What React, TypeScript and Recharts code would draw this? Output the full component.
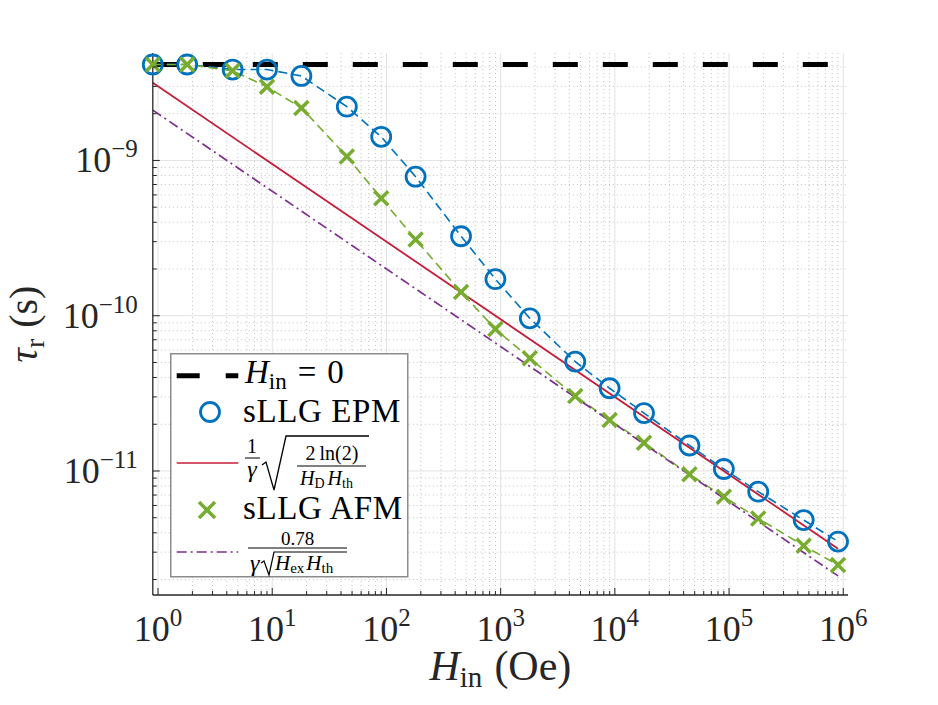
import React from 'react';
import { ComposedChart, Line, XAxis, YAxis, CartesianGrid, Legend } from 'recharts';

// relaxation time vs in-plane field
const fieldOe = [0.9, 1.8, 4.5, 9, 18, 45, 90, 180, 450, 900, 1800, 4500, 9000, 18000, 45000, 90000, 180000, 450000, 900000];
const tauEPM = [4.15e-9, 4.15e-9, 3.85e-9, 3.85e-9, 3.5e-9, 2.22e-9, 1.42e-9, 7.86e-10, 3.25e-10, 1.72e-10, 9.62e-11, 5.06e-11, 3.41e-11, 2.36e-11, 1.46e-11, 1.03e-11, 7.36e-12, 4.83e-12, 3.51e-12];
const tauAFM = [4.15e-9, 4.15e-9, 3.78e-9, 2.98e-9, 2.18e-9, 1.06e-9, 5.7e-10, 3.1e-10, 1.42e-10, 8.2e-11, 5.32e-11, 3.04e-11, 2.13e-11, 1.52e-11, 9.52e-12, 6.83e-12, 4.95e-12, 3.3e-12, 2.48e-12];

// zero-field level and the two analytic estimates (end points only, straight on log-log)
const zeroFieldOe = [0.9, 1.1e6];
const zeroFieldTau = [4.15e-9, 4.15e-9];
const modelOe = [0.9, 9e5];
const tauModelFM = [3.16e-9, 3.16e-12];
const tauModelAFM = [2.11e-9, 2.11e-12];

const xDecades = [1, 10, 100, 1e3, 1e4, 1e5, 1e6];
const yDecades = [1e-12, 1e-11, 1e-10, 1e-9];
const yMajor = [1e-11, 1e-10, 1e-9];
const minorSteps = [2, 3, 4, 5, 6, 7, 8, 9];

const X_DOMAIN = [0.9, 1.1e6];
const Y_DOMAIN = [1.59e-12, 4.92e-9];

const xMinor = xDecades.slice(0, -1).flatMap((d) => minorSteps.map((m) => m * d));
const yMinor = yDecades.flatMap((d) => minorSteps.map((m) => m * d)).filter((v) => v > Y_DOMAIN[0] && v < Y_DOMAIN[1]);
const xTicks = [...xDecades, ...xMinor].sort((a, b) => a - b);
const yTicks = [...yMajor, ...yMinor].sort((a, b) => a - b);

const toRows = (xs: number[], ys: number[]) => xs.map((h, i) => ({ h, tau: ys[i] }));
const epmRows = toRows(fieldOe, tauEPM);
const afmRows = toRows(fieldOe, tauAFM);
const zeroRows = toRows(zeroFieldOe, zeroFieldTau);
const fmRows = toRows(modelOe, tauModelFM);
const afRows = toRows(modelOe, tauModelAFM);

const FONT = "'Liberation Serif', 'Times New Roman', serif";
const INK = '#262626';
const BLUE = '#0072BD';
const GREEN = '#77AC30';
const RED = '#C41E3A';
const PURPLE = '#7E2F8E';

const isDecade = (v: number) => Math.abs(Math.log10(v) - Math.round(Math.log10(v))) < 1e-6;
const expLabel = (v: number) => {
  const e = Math.round(Math.log10(v));
  return e < 0 ? `\u2212${-e}` : `${e}`;
};

function BottomTick({ x, y, payload }: any) {
  const major = isDecade(payload.value);
  return (
    <g>
      <line x1={x} x2={x} y1={y} y2={y - (major ? 7 : 4)} stroke={INK} strokeWidth={1} />
      {major && (
        <text x={x} y={y + 46} textAnchor="middle" fontFamily={FONT} fontSize={36} fill={INK}>
          10<tspan fontSize={25} dy={-15}>{expLabel(payload.value)}</tspan>
        </text>
      )}
    </g>
  );
}

function TopTick({ x, y, payload }: any) {
  const major = isDecade(payload.value);
  return <line x1={x} x2={x} y1={y} y2={y + (major ? 7 : 4)} stroke={INK} strokeWidth={1} />;
}

function LeftTick({ x, y, payload }: any) {
  const major = isDecade(payload.value);
  return (
    <g>
      <line x1={x} x2={x + (major ? 7 : 4)} y1={y} y2={y} stroke={INK} strokeWidth={1} />
      {major && (
        <text x={x - 15} y={y + 12} textAnchor="end" fontFamily={FONT} fontSize={36} fill={INK}>
          10<tspan fontSize={25} dy={-15}>{expLabel(payload.value)}</tspan>
        </text>
      )}
    </g>
  );
}

function RightTick({ x, y, payload }: any) {
  const major = isDecade(payload.value);
  return <line x1={x} x2={x - (major ? 7 : 4)} y1={y} y2={y} stroke={INK} strokeWidth={1} />;
}

const XTitle = ({ viewBox }: any) => (
  <text x={viewBox.x + viewBox.width / 2} y={viewBox.y + 85} textAnchor="middle" fontFamily={FONT} fontSize={42} fill={INK}>
    <tspan fontStyle="italic">H</tspan>
    <tspan fontSize={29} dy={7}>in</tspan>
    <tspan dy={-7} dx={12}>(Oe)</tspan>
  </text>
);

const YTitle = ({ viewBox }: any) => {
  const cx = 37;
  const cy = viewBox.y + viewBox.height / 2;
  return (
    <text x={cx} y={cy} transform={`rotate(-90 ${cx} ${cy})`} textAnchor="middle" fontFamily={FONT} fontSize={40} fill={INK}>
      <tspan fontStyle="italic">{'\u03c4'}</tspan>
      <tspan fontSize={28} dy={7}>r</tspan>
      <tspan dy={-7} dx={11}>(s)</tspan>
    </text>
  );
};

const ringDot = (p: any) => (
  <circle key={`ring-${p.index}`} cx={p.cx} cy={p.cy} r={9.5} fill="none" stroke={BLUE} strokeWidth={2.8} />
);

const crossDot = (p: any) => (
  <g key={`cross-${p.index}`}>
    <line x1={p.cx - 7} y1={p.cy - 7} x2={p.cx + 7} y2={p.cy + 7} stroke={GREEN} strokeWidth={3.5} />
    <line x1={p.cx - 7} y1={p.cy + 7} x2={p.cx + 7} y2={p.cy - 7} stroke={GREEN} strokeWidth={3.5} />
  </g>
);

function LegendBox() {
  const t = { fontFamily: FONT, fill: '#000' };
  return (
    <svg width={240} height={226} style={{ display: 'block', overflow: 'visible' }}>
      <rect x={0.75} y={0.75} width={237} height={223} fill="#fff" stroke="#8c8c8c" strokeWidth={1.5} />

      <line x1={6.7} x2={68.3} y1={22.7} y2={22.7} stroke="#000" strokeWidth={5} strokeDasharray="23 26" />
      <text x={75} y={30} fontSize={33} {...t}>
        <tspan fontStyle="italic">H</tspan>
        <tspan fontSize={23} dy={6}>in</tspan>
        <tspan dy={-6} dx={11}>=</tspan>
        <tspan dx={11}>0</tspan>
      </text>

      <circle cx={40} cy={59} r={9.5} fill="none" stroke={BLUE} strokeWidth={2.8} />
      <text x={73} y={69} fontSize={33} letterSpacing={0.6} {...t}>sLLG EPM</text>

      <line x1={6.7} x2={68.3} y1={110} y2={110} stroke={RED} strokeWidth={1.7} />
      <text x={82} y={100} fontSize={20} textAnchor="middle" {...t}>1</text>
      <line x1={75} x2={90} y1={105} y2={105} stroke="#000" strokeWidth={1} />
      <text x={82} y={124} fontSize={24} fontStyle="italic" textAnchor="middle" {...t}>{'\u03b3'}</text>
      <path d="M92 112 L96 109 L104 137 L116 83 L199 83" fill="none" stroke="#000" strokeWidth={1.3} />
      <text x={162} y={107} fontSize={20} textAnchor="middle" {...t}>2{'\u2009'}ln(2)</text>
      <line x1={127} x2={196} y1={113} y2={113} stroke="#000" strokeWidth={1} />
      <text x={130} y={132} fontSize={20} {...t}>
        <tspan fontStyle="italic">H</tspan>
        <tspan fontSize={14} dy={3}>D</tspan>
        <tspan fontStyle="italic" dy={-3} dx={3}>H</tspan>
        <tspan fontSize={14} dy={3}>th</tspan>
      </text>

      <line x1={29} x2={45} y1={149} y2={165} stroke={GREEN} strokeWidth={3.5} />
      <line x1={29} x2={45} y1={165} y2={149} stroke={GREEN} strokeWidth={3.5} />
      <text x={73} y={166} fontSize={33} letterSpacing={0.6} {...t}>sLLG AFM</text>

      <line x1={6.7} x2={68.3} y1={199} y2={199} stroke={PURPLE} strokeWidth={1.7} strokeDasharray="10 4 2 4" />
      <text x={127.5} y={192} fontSize={19} textAnchor="middle" {...t}>0.78</text>
      <line x1={78} x2={177} y1={195} y2={195} stroke="#000" strokeWidth={1} />
      <text x={80} y={218} fontSize={24} fontStyle="italic" {...t}>{'\u03b3'}</text>
      <path d="M91 210 L94 208 L99 222 L104 199 L177 199" fill="none" stroke="#000" strokeWidth={1.2} />
      <text x={105} y={217} fontSize={21} {...t}>
        <tspan fontStyle="italic">H</tspan>
        <tspan fontSize={15} dy={3}>ex</tspan>
        <tspan fontStyle="italic" dy={-3} dx={2}>H</tspan>
        <tspan fontSize={15} dy={3}>th</tspan>
      </text>
    </svg>
  );
}

export default function App() {
  return (
    <div style={{ position: 'absolute', left: 0, top: 0, width: 938, height: 705, background: '#fff' }}>
      <ComposedChart width={938} height={705} margin={{ top: 53, right: 90, bottom: 50, left: 52.8 }}>
        <CartesianGrid verticalValues={xMinor} horizontalValues={yMinor} stroke="#c2c2c2" strokeDasharray="1 3" />
        <CartesianGrid verticalValues={xDecades} horizontalValues={yMajor} stroke="#e2e2e2" />
        <XAxis
          dataKey="h"
          type="number"
          scale="log"
          domain={X_DOMAIN}
          ticks={xTicks}
          interval={0}
          tickSize={0}
          tickMargin={0}
          tickLine={false}
          height={60}
          tick={<BottomTick />}
          axisLine={{ stroke: INK, strokeWidth: 1.3 }}
          label={{ content: XTitle }}
        />
        <XAxis
          xAxisId="top"
          orientation="top"
          type="number"
          scale="log"
          domain={X_DOMAIN}
          ticks={xTicks}
          interval={0}
          tickSize={0}
          tickMargin={0}
          tickLine={false}
          height={0}
          tick={<TopTick />}
          axisLine={{ stroke: INK, strokeWidth: 1.3 }}
        />
        <YAxis
          type="number"
          scale="log"
          domain={Y_DOMAIN}
          ticks={yTicks}
          interval={0}
          tickSize={0}
          tickMargin={0}
          tickLine={false}
          width={100}
          tick={<LeftTick />}
          axisLine={{ stroke: INK, strokeWidth: 1.3 }}
          label={{ content: YTitle }}
        />
        <YAxis
          yAxisId="right"
          orientation="right"
          type="number"
          scale="log"
          domain={Y_DOMAIN}
          ticks={yTicks}
          interval={0}
          tickSize={0}
          tickMargin={0}
          tickLine={false}
          width={0}
          tick={<RightTick />}
          axisLine={{ stroke: INK, strokeWidth: 1.3 }}
        />
        <Line data={zeroRows} dataKey="tau" type="linear" stroke="#000" strokeWidth={5} strokeDasharray="25 25" dot={false} activeDot={false} isAnimationActive={false} />
        <Line data={epmRows} dataKey="tau" type="linear" stroke={BLUE} strokeWidth={1.6} strokeDasharray="9 5" dot={ringDot} activeDot={false} isAnimationActive={false} />
        <Line data={fmRows} dataKey="tau" type="linear" stroke={RED} strokeWidth={1.8} dot={false} activeDot={false} isAnimationActive={false} />
        <Line data={afmRows} dataKey="tau" type="linear" stroke={GREEN} strokeWidth={1.6} strokeDasharray="9 5" dot={crossDot} activeDot={false} isAnimationActive={false} />
        <Line data={afRows} dataKey="tau" type="linear" stroke={PURPLE} strokeWidth={1.7} strokeDasharray="10 4 2 4" dot={false} activeDot={false} isAnimationActive={false} />
        <Legend
          layout="horizontal"
          verticalAlign="middle"
          align="center"
          content={() => <LegendBox />}
          wrapperStyle={{ left: 170, top: 353, width: 240, height: 226 }}
        />
      </ComposedChart>
    </div>
  );
}
